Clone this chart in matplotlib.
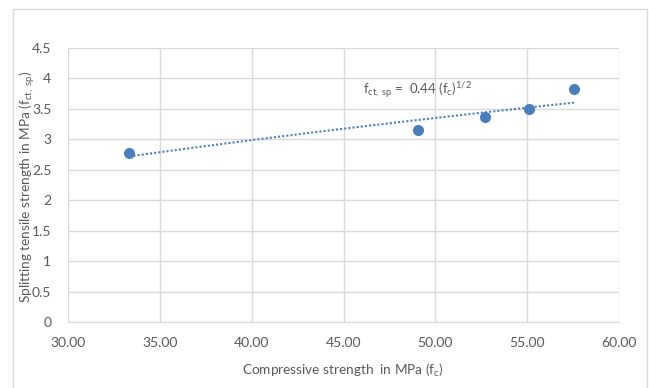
import numpy as np
import matplotlib
matplotlib.use('Agg')
import matplotlib.pyplot as plt
from matplotlib.patches import Rectangle

# values
fc = [33.34, 49.04, 52.70, 55.10, 57.56]      # compressive strength, MPa
fct = [2.77, 3.16, 3.37, 3.49, 3.83]          # splitting tensile strength, MPa
x_ticks = [30, 35, 40, 45, 50, 55, 60]
y_ticks = [0, 0.5, 1, 1.5, 2, 2.5, 3, 3.5, 4, 4.5]
y_tick_labels = ['0', '0.5', '1', '1.5', '2', '2.5', '3', '3.5', '4', '4.5']

plt.rcParams['font.family'] = ['Lato', 'DejaVu Sans']
plt.rcParams['mathtext.fontset'] = 'custom'
plt.rcParams['mathtext.rm'] = 'Lato'
plt.rcParams['mathtext.it'] = 'Lato'

grey = '#595959'
grid = '#d9d9d9'
blue = '#4a7ebb'

fig = plt.figure(figsize=(6.49, 3.88), dpi=100)
ax = fig.add_axes([68/649, 1-322/388, (619-68)/649, (322-48)/388])

# chart frame
fig.patches.append(Rectangle((13/649, -0.1), (647-13)/649, 1-9/388+0.1,
                             transform=fig.transFigure, fill=False,
                             edgecolor=grid, lw=1.0))

ax.scatter(fc, fct, s=64, color=blue, zorder=3, linewidths=0)

# power trendline, like Excel does it
b, ln_a = np.polyfit(np.log(fc), np.log(fct), 1)
xs = np.linspace(min(fc), max(fc), 100)
ax.plot(xs, np.exp(ln_a) * xs**b, linestyle=(0, (1, 1)), color=blue,
        lw=1.5, dash_capstyle='butt', zorder=2)

ax.text(49.05, 3.80, r'f$_{\mathrm{ct,\ sp}}$ =  0.44 (f$_{\mathrm{c}}$)$^{1/2}$',
        ha='center', va='center', fontsize=9.5, color=grey)

ax.set_xlim(30, 60)
ax.set_ylim(0, 4.5)
ax.set_xticks(x_ticks)
ax.set_xticklabels(['%.2f' % v for v in x_ticks])
ax.set_yticks(y_ticks)
ax.set_yticklabels(y_tick_labels)
ax.tick_params(length=0, labelsize=10, colors=grey)
ax.tick_params(axis='x', pad=11)
ax.tick_params(axis='y', pad=12)
ax.grid(True, color=grid, lw=1.0)
ax.set_axisbelow(True)
for s in ax.spines.values():
    s.set_visible(False)
ax.spines['bottom'].set_visible(True)
ax.spines['bottom'].set_color(grid)

fig.text(343/649, 1-370/388, r'Compressive strength  in MPa (f$_{\mathrm{c}}$)',
         ha='center', va='center', fontsize=9.8, color=grey)
fig.text(27/649, 1-187/388, r'Splitting tensile strength in MPa (f$_{\mathrm{ct,\ sp}}$)',
         ha='center', va='center', rotation=90, fontsize=9.8, color=grey)

plt.savefig('out.png', dpi=100)
